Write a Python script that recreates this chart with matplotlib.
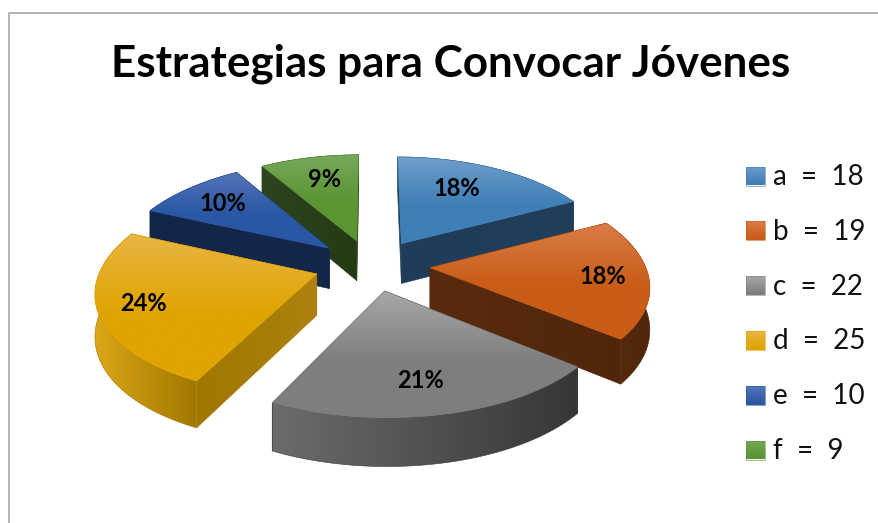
import matplotlib
matplotlib.use('Agg')
import matplotlib.pyplot as plt
import numpy as np
from matplotlib.colors import to_rgb
from matplotlib.patches import Polygon

plt.rcParams['font.family'] = ['Lato', 'DejaVu Sans']

title = 'Estrategias para Convocar Jóvenes'
categories = ['a', 'b', 'c', 'd', 'e', 'f']
values = [18, 19, 22, 25, 10, 9]
percents = [18, 18, 21, 24, 10, 9]  # as printed on the chart

# fill colours: top face (light, base), side face gradient left to right, cut face
top_colors = [('#6f9ecb', '#3f7fb7'), ('#da7d48', '#c95c16'), ('#a8a8a8', '#7e7e7e'),
              ('#e9b545', '#e0a400'), ('#5675b9', '#2a57a4'), ('#77a85d', '#5a9531')]
rim_colors = [('#1f3b58', '#1f3b58'), ('#5a2b0e', '#4f260b'), ('#6c6c6c', '#363636'),
              ('#dca616', '#a07700'), ('#14274b', '#14274b'), ('#2a4219', '#2a4219')]
cut_colors = [('#1f3e5c', '#213d5a'), ('#5a2b0e', '#50260b'), ('#444444', '#383838'),
              ('#a07700', '#ad8210'), ('#14274b', '#12264a'), ('#2d4420', '#233a12')]
# label placement: distance from the slice apex, turn away from the slice middle
label_pos = [0.68, 0.79, 0.75, 0.80, 0.74, 0.71]
label_turn = [-0.09, 0.0, 0.03, 0.0, 0.0, 0.02]

# pie projection, in pixels
CX, CY = 372, 265
R, RY = 215, 103
K_Y = 0.129
K_X = 0.15
DEPTH = 41
EXPLODE_X = 0.27
EXPLODE_Y = 0.25


def project(u, v, z=0.0):
    wx = 1 / (1 - K_X * v)
    wy = 1 / (1 - K_Y * v)
    return CX + R * u * wx, CY + RY * v * wy + DEPTH * z * wy


def gradient_fill(ax, pts, c0, c1, zorder, horizontal=False, split=1.0):
    pts = np.array(pts)
    x0, y0 = pts.min(axis=0)
    x1, y1 = pts.max(axis=0)
    t = np.linspace(0, 1, 200)
    a, b = np.array(to_rgb(c0)), np.array(to_rgb(c1))
    ramp = np.clip(t / split, 0, 1)[:, None]
    colors = a + (b - a) * ramp
    arr = colors[None, :, :] if horizontal else colors[:, None, :]
    patch = Polygon(pts, closed=True, facecolor='none', edgecolor=b,
                    linewidth=0.4, zorder=zorder + 0.1)
    ax.add_patch(patch)
    im = ax.imshow(arr, extent=[x0, x1, y1, y0], aspect='auto', zorder=zorder,
                   interpolation='bilinear')
    im.set_clip_path(patch)


fig = plt.figure(figsize=(8.79, 5.23), dpi=100)
ax = fig.add_axes([0, 0, 1, 1])
ax.axis('off')

# chart frame, only top and left are in view
ax.plot([9.5, 9.5, 879], [523, 12.5, 12.5], color='#a6a6a6', lw=1.2)

total = sum(values)
edges = np.concatenate([[0], np.cumsum(values)]) / total * 2 * np.pi
mids = (edges[:-1] + edges[1:]) / 2
off_us = EXPLODE_X * np.sin(mids)
off_vs = -EXPLODE_Y * np.cos(mids)
# paint back slices first
order = sorted(range(len(values)), key=lambda i: -np.cos(mids[i]))

z = 2
for i in order:
    th = np.linspace(edges[i], edges[i + 1], 80)
    us = off_us[i] + np.sin(th)
    vs = off_vs[i] - np.cos(th)
    arc_top = [project(u, v) for u, v in zip(us, vs)]
    arc_bot = [project(u, v, 1) for u, v in zip(us, vs)]
    apex_top = project(off_us[i], off_vs[i])
    apex_bot = project(off_us[i], off_vs[i], 1)

    faces = [(np.mean(vs), arc_top + arc_bot[::-1], rim_colors[i])]
    for k in (0, -1):
        quad = [apex_top, arc_top[k], arc_bot[k], apex_bot]
        faces.append(((off_vs[i] + vs[k]) / 2, quad, cut_colors[i]))
    for _, pts, (c0, c1) in sorted(faces, key=lambda f: f[0]):
        gradient_fill(ax, pts, c0, c1, z, horizontal=True)
        z += 1

    gradient_fill(ax, [apex_top] + arc_top, top_colors[i][0], top_colors[i][1], z, split=0.55)
    z += 1

# percent labels
for i in range(len(values)):
    ang = mids[i] + label_turn[i]
    x, y = project(off_us[i] + label_pos[i] * np.sin(ang), off_vs[i] - label_pos[i] * np.cos(ang))
    ax.text(x, y, f'{percents[i]}%', ha='center', va='center',
            fontsize=17, fontweight='bold', color='black', zorder=500)

ax.text(451, 64, title, ha='center', va='center', fontsize=31.7, fontweight='bold',
        color='black', zorder=500)

# legend
for i, (cat, val) in enumerate(zip(categories, values)):
    yc = 176 + i * 54.8
    swatch = [(746, yc - 9.5), (765, yc - 9.5), (765, yc + 9.5), (746, yc + 9.5)]
    gradient_fill(ax, swatch, top_colors[i][0], top_colors[i][1], z, split=0.9)
    z += 1
    ax.text(773, yc + 1, f'{cat}  =  {val}', ha='left', va='center', fontsize=20,
            color='#111111', zorder=500)

ax.set_xlim(0, 879)
ax.set_ylim(523, 0)
fig.savefig('out.png', dpi=100, facecolor='white')
